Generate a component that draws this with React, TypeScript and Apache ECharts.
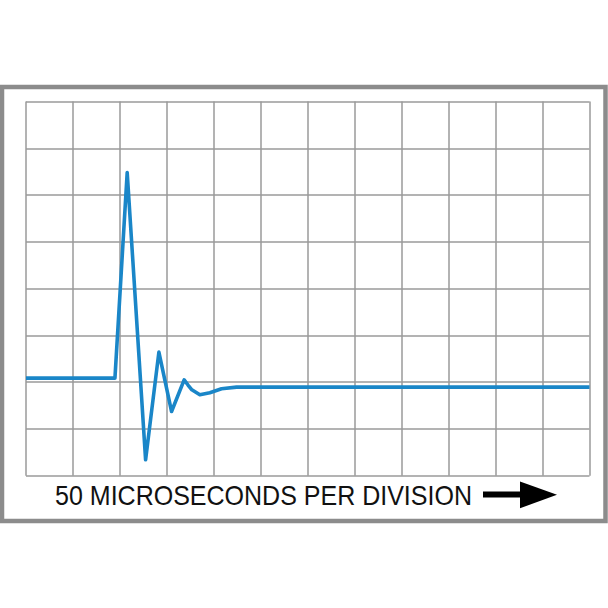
import React, { useEffect, useRef } from "react";
import * as echarts from "echarts";

// waveform in divisions (x: 0..12 horizontal divisions, y: 0..8 vertical divisions)
const waveX = [0, 1.894, 2.155, 2.547, 2.83, 3.1, 3.368, 3.45, 3.532, 3.702, 3.915, 4.164, 4.483, 12];
const waveY = [2.088, 2.088, 6.481, 0.342, 2.643, 1.374, 2.051, 1.94, 1.838, 1.731, 1.774, 1.859, 1.895, 1.895];
const caption = "50 MICROSECONDS PER DIVISION";
const xDivisions = 12;
const yDivisions = 8;

export default function App() {
  const ref = useRef<HTMLDivElement>(null);
  useEffect(() => {
    if (!ref.current) return;
    const chart = echarts.init(ref.current, null, { renderer: "svg" });
    const gridLeft = 26;
    const gridTop = 101.5;
    const gridW = 563.5;
    const gridH = 374.3;
    chart.setOption({
      animation: false,
      backgroundColor: "#ffffff",
      grid: { left: gridLeft, top: gridTop, width: gridW, height: gridH, containLabel: false },
      xAxis: {
        type: "value",
        min: 0,
        max: xDivisions,
        interval: 1,
        axisLine: { show: false },
        axisTick: { show: false },
        axisLabel: { show: false },
        splitLine: { show: true, lineStyle: { color: "#9a9a9a", width: 1.5 } },
      },
      yAxis: {
        type: "value",
        min: 0,
        max: yDivisions,
        interval: 1,
        axisLine: { show: false },
        axisTick: { show: false },
        axisLabel: { show: false },
        splitLine: { show: true, lineStyle: { color: "#9a9a9a", width: 1.5 } },
      },
      series: [
        {
          type: "line",
          data: waveX.map((x, i) => [x, waveY[i]]),
          showSymbol: false,
          symbol: "none",
          lineStyle: { color: "#1a86c8", width: 3.6, join: "round" },
          z: 5,
        },
      ],
      graphic: [
        {
          type: "rect",
          shape: { x: 2, y: 87, width: 603.5, height: 434 },
          style: { fill: "none", stroke: "#8c8c8c", lineWidth: 4.5 },
          z: 10,
        },
        {
          type: "text",
          x: 263.5,
          y: 496,
          scaleX: 0.927,
          style: {
            text: caption,
            fill: "#111111",
            font: "27px 'Liberation Sans', Arial, sans-serif",
            align: "center",
            verticalAlign: "middle",
          },
          z: 10,
        },
        {
          type: "rect",
          shape: { x: 483, y: 491.5, width: 39, height: 6 },
          style: { fill: "#000000" },
          z: 10,
        },
        {
          type: "polygon",
          shape: { points: [[520, 481.5], [557, 494.8], [520, 508.3]] },
          style: { fill: "#000000" },
          z: 10,
        },
      ],
    });
    return () => chart.dispose();
  }, []);
  return (
    <div
      ref={ref}
      style={{ position: "fixed", left: 0, top: 0, width: 608, height: 608, background: "#fff" }}
    />
  );
}
